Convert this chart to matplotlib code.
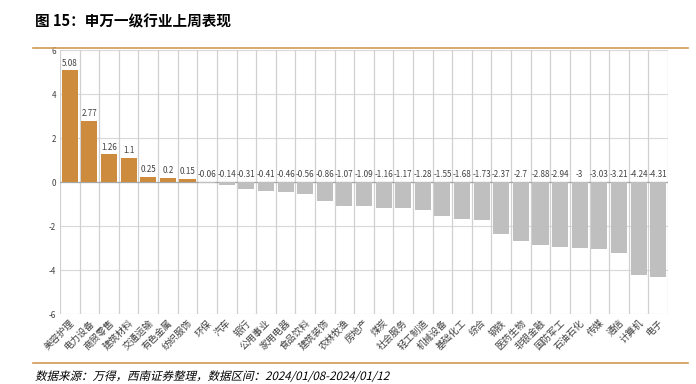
import numpy as np
import matplotlib.pyplot as plt
from matplotlib.textpath import TextPath
from matplotlib.font_manager import FontProperties
from matplotlib.patches import PathPatch
from matplotlib.transforms import Affine2D

plt.rcParams['font.family'] = ['Noto Sans CJK SC', 'DejaVu Sans']

industries = ['美容护理', '电力设备', '商贸零售', '建筑材料', '交通运输', '有色金属', '纺织服饰',
              '环保', '汽车', '银行', '公用事业', '家用电器', '食品饮料', '建筑装饰', '农林牧渔',
              '房地产', '煤炭', '社会服务', '轻工制造', '机械设备', '基础化工', '综合', '钢铁',
              '医药生物', '非银金融', '国防军工', '石油石化', '传媒', '通信', '计算机', '电子']
returns = [5.08, 2.77, 1.26, 1.1, 0.25, 0.2, 0.15, -0.06, -0.14, -0.31, -0.41, -0.46, -0.56,
           -0.86, -1.07, -1.09, -1.16, -1.17, -1.28, -1.55, -1.68, -1.73, -2.37, -2.7, -2.88,
           -2.94, -3, -3.03, -3.21, -4.24, -4.31]
yticks = [-6, -4, -2, 0, 2, 4, 6]

orange = '#CD8B3E'
gray = '#BFBFBF'

fig = plt.figure(figsize=(6.96, 3.84), dpi=100)
ax = fig.add_axes([60 / 696, 1 - 314 / 384, 608 / 696, 264 / 384])

x = np.arange(len(industries))
colors = [orange if v > 0 else gray for v in returns]
ax.bar(x, returns, width=0.82, color=colors, zorder=3)

# value labels: above bar for positive, above zero line for negative
for i, v in enumerate(returns):
    y = v if v > 0 else 0
    ax.text(i, y + 0.12, f'{v:g}', ha='center', va='bottom', fontsize=5.8,
            color='#404040', zorder=4)

ax.set_xlim(-0.5, len(industries) - 0.5)
ax.set_ylim(-6, 6)
ax.set_yticks(yticks)
ax.set_yticklabels([str(t) for t in yticks], fontsize=5.8, color='#404040')
ax.set_xticks(x)
ax.set_xticklabels(industries, rotation=45, ha='right', rotation_mode='anchor',
                   fontsize=6.8, color='#404040')
ax.tick_params(axis='both', length=0, pad=3)

# grid: horizontal at ticks, vertical between categories
for t in yticks:
    ax.axhline(t, color='#D9D9D9', lw=0.8, zorder=1)
for b in np.arange(-0.5, len(industries), 1):
    ax.axvline(b, color='#D0D0D0', lw=0.9, zorder=1)
ax.axhline(0, color='#A6A6A6', lw=0.9, zorder=2)
for s in ax.spines.values():
    s.set_visible(False)

# title, rules and source
fig.text(35 / 696, 1 - 21 / 384, '图 15：申万一级行业上周表现', fontsize=10.5,
         fontweight='bold', va='center', ha='left', color='#000000')
fig.add_artist(plt.Line2D([33 / 696, 688 / 696], [1 - 48 / 384, 1 - 48 / 384],
                          color='#D09A55', lw=1.2))
fig.add_artist(plt.Line2D([33 / 696, 688 / 696], [1 - 363 / 384, 1 - 363 / 384],
                          color='#D09A55', lw=1.2))

# source line in slanted text (CJK font has no italic, so skew the glyph outlines)
source = '数据来源：万得，西南证券整理，数据区间：2024/01/08-2024/01/12'
tp = TextPath((0, 0), source, size=11.5, prop=FontProperties(family='Noto Sans CJK SC'))
tr = Affine2D().skew_deg(14, 0).translate(35, 384 - 380)
fig.add_artist(PathPatch(tp, transform=tr, facecolor='#000000', edgecolor='none', lw=0))

fig.savefig('out.png', dpi=100)
